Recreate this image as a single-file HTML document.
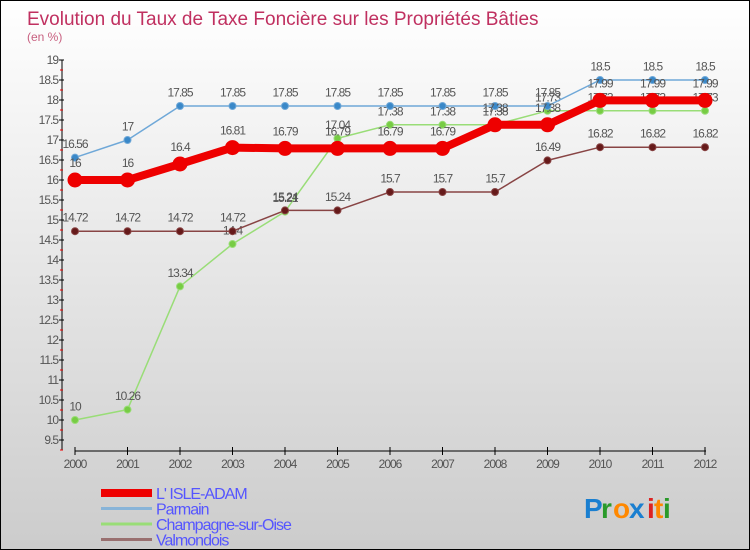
<!DOCTYPE html>
<html><head><meta charset="utf-8"><style>
body{margin:0}
#c{width:748px;height:548px;border:1px solid #000;background:linear-gradient(#fff,#ccc);position:relative;font-family:"Liberation Sans",sans-serif;overflow:hidden}
</style></head><body>
<div id="c">
<svg id="s" width="748" height="548" xmlns="http://www.w3.org/2000/svg"></svg>
</div>
<script>
const years=[2000,2001,2002,2003,2004,2005,2006,2007,2008,2009,2010,2011,2012];
const isle=[16,16,16.4,16.81,16.79,16.79,16.79,16.79,17.38,17.38,17.99,17.99,17.99];
const parmain=[16.56,17,17.85,17.85,17.85,17.85,17.85,17.85,17.85,17.85,18.5,18.5,18.5];
const champ=[10,10.26,13.34,14.4,15.21,17.04,17.38,17.38,17.38,17.73,17.73,17.73,17.73];
const valm=[14.72,14.72,14.72,14.72,15.24,15.24,15.7,15.7,15.7,16.49,16.82,16.82,16.82];
const yTicks=[9.5,10,10.5,11,11.5,12,12.5,13,13.5,14,14.5,15,15.5,16,16.5,17,17.5,18,18.5,19];
const s=document.getElementById('s');const NS='http://www.w3.org/2000/svg';
const X=i=>74+52.5*i, Y=v=>59+(19-v)*40;
function el(t,a,p){const e=document.createElementNS(NS,t);for(const k in a)e.setAttribute(k,a[k]);(p||s).appendChild(e);return e;}
function txt(x,y,str,a){const e=el('text',Object.assign({x:x,y:y},a));e.textContent=str;return e;}
let t=txt(26,24,'Evolution du Taux de Taxe Foncière sur les Propriétés Bâties',{'font-size':19,fill:'#c03060'});

t=txt(26,40,'(en %)',{'font-size':12,fill:'#c86080'});

let ax=el('line',{x1:61,y1:59,x2:61,y2:449,stroke:'#000'});

yTicks.forEach(v=>{el('line',{x1:58,x2:63,y1:Y(v),y2:Y(v),stroke:'#000'});
 el('line',{x1:59,x2:62,y1:Y(v)+10,y2:Y(v)+10,stroke:'#e00'});
 const l=txt(57,Y(v)+4,String(v),{'font-size':12,fill:'#555','text-anchor':'end','letter-spacing':'-1'});
 });
ax=el('line',{x1:74,y1:450,x2:705,y2:450,stroke:'#000'});

years.forEach((y,i)=>{el('line',{x1:X(i),x2:X(i),y1:446,y2:454,stroke:'#000'});
 const l=txt(X(i),467,String(y),{'font-size':12,fill:'#555','text-anchor':'middle','letter-spacing':'-1'});
 });
function series(d,color,w,r,fill,name){
 const g=el('g',{});
 el('polyline',{points:d.map((v,i)=>X(i)+','+Y(v)).join(' '),fill:'none',stroke:color,'stroke-width':w,'stroke-linejoin':'round'},g);
 d.forEach((v,i)=>{const c=el('circle',{cx:X(i),cy:Y(v),r:r,fill:fill,stroke:color},g);
  
  txt(X(i),Y(v)-r-6,String(v),{'font-size':12,fill:'#555','text-anchor':'middle','letter-spacing':'-1'},g);});
}
series(champ,'#99dd77',1.5,3.5,'#77cc44','champagne');
series(valm,'#884444',1.5,3.5,'#661a1a','valmondois');
series(parmain,'#6fa8d8',1.5,3.5,'#3a88c8','parmain');
series(isle,'#ee0000',8,7,'#ee0000','isle-adam');
const leg=[['L\' ISLE-ADAM','#ee0000',8],['Parmain','#88b4d8',3],['Champagne-sur-Oise','#99dd77',3],['Valmondois','#997070',3]];
leg.forEach((l,i)=>{const g=el('g',{});
 const y=492+i*15.5;el('line',{x1:100,x2:151,y1:y,y2:y,stroke:l[1],'stroke-width':l[2]},g);
 txt(155,y+6,l[0],{'font-size':16,fill:'#5555ff','letter-spacing':'-1'},g);});
const lg=el('g',{});
[['P','#1a7fd0'],['r','#2a9a2a'],['o','#ff8800'],['x','#1a7fd0'],['i','#dd2222'],['t','#ff8800'],['i','#2a9a2a']].forEach((c,i)=>{
 txt(583+[0,17,29,45,63,70,79][i],517,c[0],{'font-size':28,'font-weight':'bold',fill:c[1]},lg);});
</script>
</body></html>
